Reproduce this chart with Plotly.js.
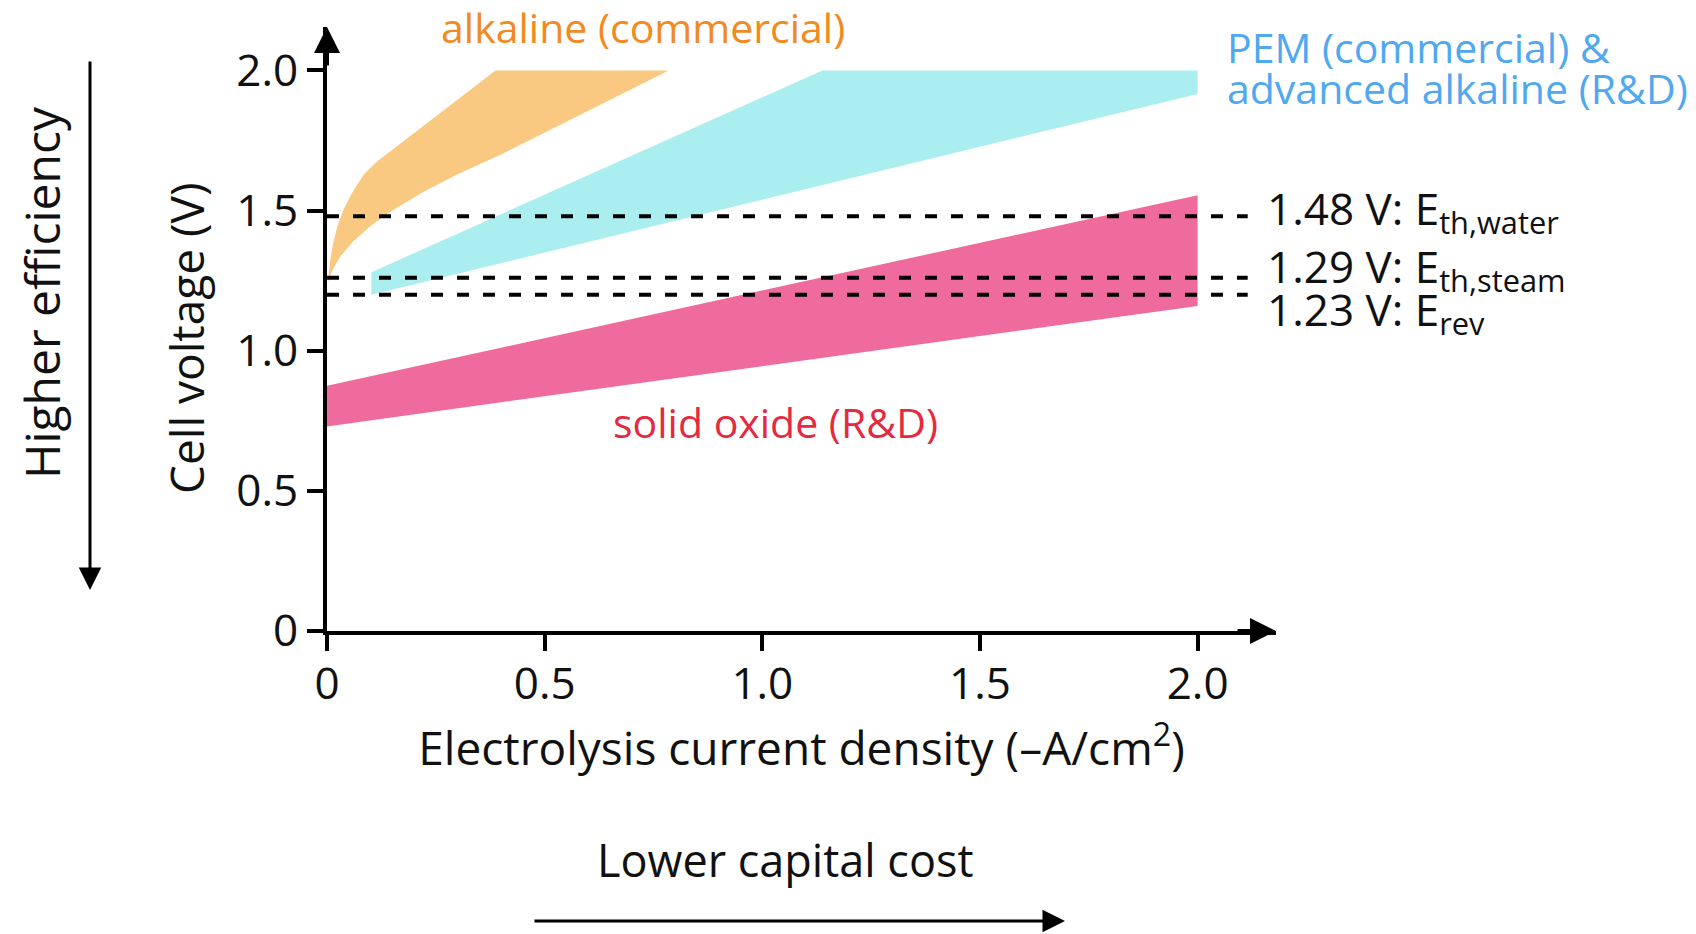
<!DOCTYPE html>
<html>
<head>
<meta charset="utf-8">
<script src="https://cdn.plot.ly/plotly-3.0.1.min.js"></script>
<style>html,body{margin:0;padding:0;background:#fff;}#chart{width:1696px;height:934px;}</style>
</head>
<body>
<div id="chart"></div>
<script>
// ---- data ----
const tickVals = [0, 0.5, 1.0, 1.5, 2.0];
const tickText = ['0', '0.5', '1.0', '1.5', '2.0'];

// alkaline (commercial) band: left/upper edge (bottom tip -> top), right/lower edge (top -> bottom tip)
const alkUpperX = [0.002, 0.004, 0.008, 0.015, 0.025, 0.04, 0.06, 0.085, 0.115, 0.387];
const alkUpperY = [1.245, 1.28, 1.33, 1.39, 1.45, 1.51, 1.57, 1.63, 1.675, 2.00];
const alkLowerX = [0.785, 0.40, 0.30, 0.22, 0.15, 0.10, 0.06, 0.03, 0.012, 0.002];
const alkLowerY = [2.00, 1.70, 1.63, 1.565, 1.50, 1.445, 1.39, 1.335, 1.285, 1.245];

// PEM (commercial) & advanced alkaline (R&D) band
const pemUpperX = [0.102, 1.138, 2.0];
const pemUpperY = [1.28, 2.00, 2.00];
const pemLowerX = [2.0, 0.102];
const pemLowerY = [1.916, 1.20];

// solid oxide (R&D) band
const soUpperX = [0, 2.0];
const soUpperY = [0.875, 1.555];
const soLowerX = [2.0, 0];
const soLowerY = [1.16, 0.73];

// reference voltage lines (as drawn) and their labels
const refLineY = [1.48, 1.26, 1.20];
const refLineEndX = 2.115;
const refLabels = ['1.48 V: E<sub>th,water</sub>', '1.29 V: E<sub>th,steam</sub>', '1.23 V: E<sub>rev</sub>'];

// ---- layout geometry ----
const W = 1696, Hh = 934;
const L = 327, R = 1276, T = 27, B = 631;
const px = x => (x - L) / (R - L);
const py = y => (B - y) / (B - T);

const FONT = '"Open Sans", Lato, sans-serif';
const FS_TICK = 44, FS_TITLE = 46, FS_LABEL = 41, FS_REF = 44;

const orangeFill = '#F9C982', cyanFill = '#ABEEF0', pinkFill = '#EF6B9D';
const orangeText = '#F18A22', blueText = '#4FA8F0', redText = '#E52A3F';
const ink = '#111';

function band(ux, uy, lx, ly, color) {
  return {
    type: 'scatter', mode: 'lines',
    x: ux.concat(lx), y: uy.concat(ly),
    fill: 'toself', fillcolor: color,
    line: {width: 0, color: color},
    hoverinfo: 'skip'
  };
}

const traces = [
  band(alkUpperX, alkUpperY, alkLowerX, alkLowerY, orangeFill),
  band(pemUpperX, pemUpperY, pemLowerX, pemLowerY, cyanFill),
  band(soUpperX, soUpperY, soLowerX, soLowerY, pinkFill)
];
refLineY.forEach(v => {
  traces.push({
    type: 'scatter', mode: 'lines',
    x: [0, refLineEndX], y: [v, v],
    line: {color: '#000', width: 4, dash: '12px,14px'},
    hoverinfo: 'skip', cliponaxis: false
  });
});

function txt(text, xp, yp, color, size, opts) {
  return Object.assign({
    xref: 'paper', yref: 'paper', x: px(xp), y: py(yp),
    text: text, showarrow: false,
    xanchor: 'center', yanchor: 'middle',
    font: {family: FONT, size: size, color: color}
  }, opts || {});
}
function arrow(xHead, yHead, dx, dy, w, size) {
  return {
    xref: 'paper', yref: 'paper', x: px(xHead), y: py(yHead),
    ax: dx, ay: dy, axref: 'pixel', ayref: 'pixel',
    text: '', showarrow: true,
    arrowhead: 2, arrowsize: size, arrowwidth: w, arrowcolor: '#000'
  };
}

const annotations = [
  // axis arrowheads
  arrow(L, T, 0, 40, 4, 1.3),
  arrow(R, B, -40, 0, 4, 1.3),
  // efficiency / cost arrows
  arrow(90, 590, 0, -530, 3, 1.5),
  arrow(1065, 921, -532, 0, 3, 1.5),
  // texts
  txt('alkaline (commercial)', 643, 27, orangeText, FS_LABEL),
  txt('PEM (commercial) &amp;', 1225, 47, blueText, FS_LABEL, {xanchor: 'left'}),
  txt('advanced alkaline (R&amp;D)', 1225, 88, blueText, FS_LABEL, {xanchor: 'left'}),
  txt('solid oxide (R&amp;D)', 775, 422, redText, FS_LABEL),
  txt('Cell voltage (V)', 186, 338, ink, FS_TITLE, {textangle: -90}),
  txt('Higher efficiency', 41, 293, ink, 48, {textangle: -90}),
  txt('Lower capital cost', 785, 860, ink, 45)
];
const labelY = [210, 268, 311];
refLabels.forEach((t, i) => {
  annotations.push(txt(t, 1265, labelY[i], ink, FS_REF, {xanchor: 'left'}));
});

const axisCommon = {
  tickvals: tickVals, ticktext: tickText,
  ticks: 'outside', ticklen: 16, tickwidth: 4, tickcolor: '#000',
  showline: true, linewidth: 4, linecolor: '#000',
  showgrid: false, zeroline: false, fixedrange: true,
  tickfont: {family: FONT, size: FS_TICK, color: ink}
};

const layout = {
  width: W, height: Hh,
  margin: {l: L, r: W - R, t: T, b: Hh - B, pad: 0},
  paper_bgcolor: '#fff', plot_bgcolor: '#fff',
  showlegend: false, hovermode: false,
  xaxis: Object.assign({}, axisCommon, {
    range: [0, 2.18],
    ticklabelstandoff: -5,
    title: {text: 'Electrolysis current density (–A/cm<sup>2</sup>)', font: {family: FONT, size: FS_TITLE, color: ink}, standoff: 0}
  }),
  yaxis: Object.assign({}, axisCommon, {
    range: [0, 2.155]
  }),
  annotations: annotations
};

Plotly.newPlot('chart', traces, layout, {staticPlot: true, displayModeBar: false});
</script>
</body>
</html>
